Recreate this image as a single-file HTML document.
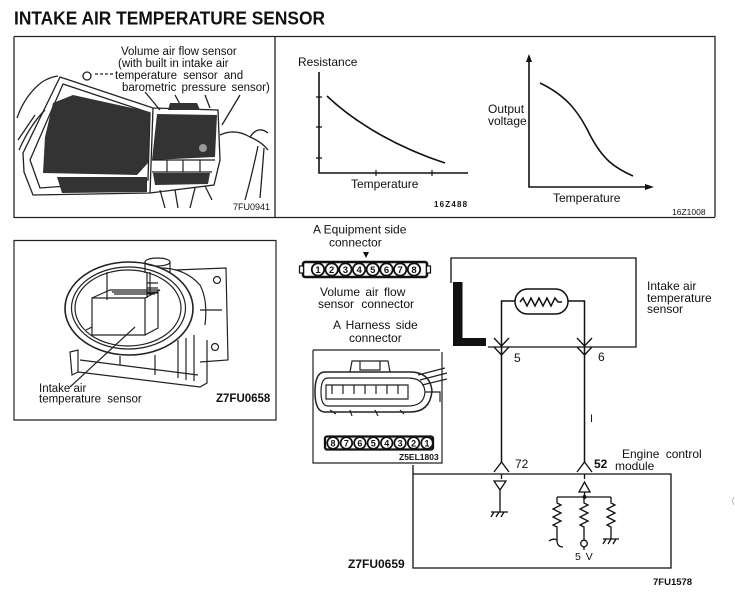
<!DOCTYPE html>
<html><head><meta charset="utf-8"><style>
html,body{margin:0;padding:0;background:#fff;}
svg{display:block;}
text{font-family:"Liberation Sans",Arial,sans-serif;fill:#111;}
</style></head><body>
<svg width="735" height="600" viewBox="0 0 735 600" xmlns="http://www.w3.org/2000/svg">
<rect width="735" height="600" fill="#fff"/>
<!-- Title -->
<text x="14" y="24.5" font-size="18" font-weight="bold" textLength="311" lengthAdjust="spacingAndGlyphs">INTAKE AIR TEMPERATURE SENSOR</text>

<!-- Top frame -->
<g stroke="#222" stroke-width="1.3" fill="none">
<path d="M14,36.5 H715 V217 M14,36.5 V218 M275,36.5 V218 M14,217.5 H715"/>
</g>

<!-- Panel 1 illustration -->
<g stroke="#222" stroke-width="1.3" fill="none">
<path d="M17,118 Q25,95 42,82 Q50,77 58,76"/>
<path d="M19,150 Q30,125 45,110"/>
<path d="M18,140 L35,115"/>
<path d="M60,77 L153,108 L218,110 L220,160 L214,185 L150,193 L33,195 L24,172 L23,153 Z"/>
<path d="M63,84 L150,113 L148,180 L40,188 L30,160 Z"/>
<circle cx="87" cy="76" r="4"/>
<path d="M95,74 H113" stroke-dasharray="3,2"/>
<path d="M153,108 L150,193"/>
<path d="M220,135 Q235,128 250,137 Q258,125 268,133"/>
<path d="M258,146 Q252,175 245,200"/>
<path d="M264,148 Q262,175 260,198"/>
<path d="M250,137 Q262,142 268,150"/>
<path d="M160,190 L165,208 M175,190 L178,208 M195,188 L190,208 M205,186 L212,200"/>
<path d="M145,92 L160,110 M175,95 L182,108 M205,95 L210,108 M240,95 L222,125"/>
</g>
<g fill="#333">
<path d="M53,103 L73,95 L150,112 L148,163 L137,175 L43,173 L45,137 Z"/>
<path d="M57,177 L147,177 L147,192 L62,193 Z"/>
<path d="M157,114 L217,115 L215,157 L152,160 Z"/>
<path d="M170,103 L197,103 L200,110 L168,110 Z"/>
<path d="M153,173 L210,173 L208,184 L155,185 Z"/>
</g>
<g stroke="#222" stroke-width="1.2" fill="none">
<path d="M152,160 H215 M152,172 H212 M167,160 V172 M183,160 V172 M200,160 V172"/>
</g>
<circle cx="203" cy="148" r="4" fill="#999"/>
<text x="121" y="55" font-size="11.5">Volume air flow sensor</text>
<text x="118" y="67" font-size="11.5">(with built in intake air</text>
<text x="115" y="79" font-size="11.5" word-spacing="3">temperature sensor and</text>
<text x="122" y="91" font-size="11.5" word-spacing="2">barometric pressure sensor)</text>
<text x="233" y="210" font-size="9">7FU0941</text>

<!-- Graph 1 -->
<g stroke="#111" stroke-width="1.6" fill="none">
<path d="M319,72 V173 H468"/>
<path d="M316,97 H322 M316,127 H322 M316,158 H322 M376,170 V176 M432,170 V176" stroke-width="1.2"/>
<path d="M327,96 C350,118 390,145 445,163"/>
</g>
<text x="298" y="66" font-size="12">Resistance</text>
<text x="351" y="188" font-size="12">Temperature</text>
<text x="434" y="207" font-size="8" font-weight="bold" letter-spacing="1.2">16Z488</text>

<!-- Graph 2 -->
<g stroke="#111" stroke-width="1.6" fill="none">
<path d="M529,60 V187 H647"/>
<path d="M540,83 C565,95 578,110 590,135 C603,160 615,168 633,176"/>
</g>
<path d="M526,62 L529,54 L532,62 Z" fill="#111"/>
<path d="M645,184 L654,187 L645,190 Z" fill="#111"/>
<text x="488" y="113" font-size="12">Output</text>
<text x="488" y="125" font-size="12">voltage</text>
<text x="553" y="202" font-size="12">Temperature</text>
<text x="672" y="215" font-size="8.5">16Z1008</text>

<!-- Panel 3 -->
<g stroke="#222" stroke-width="1.2" fill="none">
<path d="M14,240.5 H276 V420 H14 Z"/>
<path d="M175,270 L226,268 L228,360 L200,362"/>
<circle cx="217" cy="280" r="3.5"/>
<circle cx="215" cy="347" r="3.5"/>
<path d="M200,310 H222" />
<path d="M145,262 V273 M170,262 V273"/>
<ellipse cx="157.5" cy="262" rx="12.5" ry="4"/>
<path d="M160,268 Q185,268 200,285 Q208,300 205,325"/>
<ellipse cx="129" cy="308.5" rx="64" ry="46.5" stroke-width="1.6"/>
<ellipse cx="128.5" cy="308" rx="57" ry="41"/>
<ellipse cx="128" cy="308" rx="53" ry="38"/>
<path d="M107,272 V300 M147,272 V298 M150,272 V295"/>
<path d="M147,283 H158 M147,288 H158 M147,293 H158"/>
<path d="M92,298 H145 V335 H92 Z"/>
<path d="M92,298 L110,290 H160 L145,298"/>
<path d="M112,292 H158 M114,294 H155"/>
<path d="M145,335 L158,328 V292"/>
<path d="M86,330 L92,327"/>
<path d="M135,327 L70,387"/>
<path d="M70,352 L78,350 V372 L72,375 Z"/>
<path d="M78,372 L200,387 L207,383 V340"/>
<path d="M80,360 L198,375"/>
<path d="M178,340 V378 M186,338 V380 M194,335 V381"/>
<path d="M155,355 V375 M120,356 V365"/>
</g>
<text x="39" y="392" font-size="11.5">Intake air</text>
<text x="39" y="402.5" font-size="11.5" word-spacing="3">temperature sensor</text>
<text x="216" y="402" font-size="11.5" font-weight="bold">Z7FU0658</text>

<!-- Equipment side connector -->
<text x="313" y="233.5" font-size="12">A Equipment side</text>
<text x="329" y="246.5" font-size="12">connector</text>
<path d="M363,252 H369 L366,258 Z" fill="#111"/>
<rect x="303" y="262" width="124" height="15" rx="2" fill="#fff" stroke="#111" stroke-width="2.5"/>
<rect x="299.5" y="266" width="4" height="7" fill="#fff" stroke="#111" stroke-width="1.2"/>
<rect x="426.5" y="266" width="4" height="7" fill="#fff" stroke="#111" stroke-width="1.2"/>
<g fill="#fff" stroke="#111" stroke-width="1.8">
<circle cx="318" cy="269.5" r="6.2"/><circle cx="331.7" cy="269.5" r="6.2"/><circle cx="345.4" cy="269.5" r="6.2"/><circle cx="359.1" cy="269.5" r="6.2"/>
<circle cx="372.8" cy="269.5" r="6.2"/><circle cx="386.5" cy="269.5" r="6.2"/><circle cx="400.2" cy="269.5" r="6.2"/><circle cx="414" cy="269.5" r="6.2"/>
</g>
<g font-size="9.5" font-weight="bold" text-anchor="middle">
<text x="318" y="273">1</text><text x="331.7" y="273">2</text><text x="345.4" y="273">3</text><text x="359.1" y="273">4</text>
<text x="372.8" y="273">5</text><text x="386.5" y="273">6</text><text x="400.2" y="273">7</text><text x="414" y="273">8</text>
</g>
<text x="320" y="296" font-size="12" word-spacing="2">Volume air flow</text>
<text x="318" y="308" font-size="12" word-spacing="4">sensor connector</text>
<text x="333" y="329" font-size="12" word-spacing="2">A Harness side</text>
<text x="349" y="342" font-size="12">connector</text>

<!-- Harness box -->
<g stroke="#222" stroke-width="1.2" fill="none">
<path d="M313,350 H440 M313,350 V463 H442 V352"/>
<path d="M325,372 H410 Q430,372 432,391 Q430,412 410,412 H325 Q315,412 315,392 Q315,372 325,372 Z" stroke-width="1.5"/>
<path d="M328,378 H408 Q424,378 425,392 Q424,406 408,406 H328 Q321,406 321,392 Q321,378 328,378 Z"/>
<path d="M350,372 L352,361 H388 L390,372 M360,361 V370 H380 V361"/>
<path d="M326,385 H408 V399 H326 Z"/>
<path d="M332,385 V394 M343,385 V394 M354,385 V394 M365,385 V394 M376,385 V394 M387,385 V394 M398,385 V394"/>
<path d="M330,410 L336,414 M350,410 L352,416 M375,410 L378,416 M400,410 L404,414"/>
<path d="M418,375 L445,368 M420,380 L447,373 M422,385 L447,379 M425,392 L440,392 V402"/>
</g>
<rect x="325" y="436.5" width="108" height="13" rx="2" fill="#fff" stroke="#111" stroke-width="2.3"/>
<g fill="#fff" stroke="#111" stroke-width="1.7">
<circle cx="333" cy="443" r="5.8"/><circle cx="346.4" cy="443" r="5.8"/><circle cx="359.9" cy="443" r="5.8"/><circle cx="373.3" cy="443" r="5.8"/>
<circle cx="386.7" cy="443" r="5.8"/><circle cx="400.1" cy="443" r="5.8"/><circle cx="413.6" cy="443" r="5.8"/><circle cx="427" cy="443" r="5.8"/>
</g>
<g font-size="9" font-weight="bold" text-anchor="middle">
<text x="333" y="446.3">8</text><text x="346.4" y="446.3">7</text><text x="359.9" y="446.3">6</text><text x="373.3" y="446.3">5</text>
<text x="386.7" y="446.3">4</text><text x="400.1" y="446.3">3</text><text x="413.6" y="446.3">2</text><text x="427" y="446.3">1</text>
</g>
<text x="399" y="460" font-size="8.5" font-weight="bold">Z5EL1803</text>

<!-- Sensor circuit -->
<g stroke="#111" stroke-width="1.3" fill="none">
<path d="M451,283 V258 H636 V347 H488"/>
<rect x="515" y="289" width="53" height="25" rx="12.5" stroke-width="1.5"/>
<polyline points="520,302 523,298 527,306 531,298 535,306 539,298 543,306 547,298 551,306 555,298 558,302 562,302" stroke-width="1.5"/>
<path d="M501.5,462 V301 H515 M568,301 H584.5 V462" stroke-width="1.5"/>
<path d="M494,338 L501.5,346 L509,338 M494,347 L501.5,355 L509,347"/>
<path d="M577,338 L584.5,346 L592,338 M577,347 L584.5,355 L592,347"/>
</g>
<rect x="453" y="282" width="9.5" height="64" fill="#111"/>
<rect x="453" y="338" width="33" height="8" fill="#111"/>
<text x="514" y="362" font-size="12">5</text>
<text x="598" y="361" font-size="12">6</text>
<text x="647" y="290" font-size="12">Intake air</text>
<text x="647" y="302" font-size="12">temperature</text>
<text x="647" y="313" font-size="12">sensor</text>
<text x="590" y="422" font-size="11">I</text>

<!-- ECM -->
<g stroke="#111" stroke-width="1.3" fill="none">
<path d="M413,465 V568 H671 V474 H413"/>
<path d="M494,472 L501.5,462 L509,472 M577,472 L584.5,462 L592,472"/>
<path d="M501.5,474 V479 M584.5,474 V479"/>
<path d="M494,481 H506 L500,490 Z"/>
<path d="M500,490 V512 M491,512 H508 M494,512 L491,517 M499,512 L496,517 M504,512 L501,517"/>
<path d="M579,492 H590 L584.5,482 Z"/>
<path d="M584.5,492 V497 M557,497 H611"/>
<path d="M557,497 V503 L561,505 L553,509 L561,513 L553,517 L561,521 L553,525 L557,527 V540 Q557,547 563,547 M557,540 Q553,538 549,541"/>
<path d="M584,497 V503 L588,505 L580,509 L588,513 L580,517 L588,521 L580,525 L584,527 V540"/>
<circle cx="584" cy="543.5" r="3.3"/>
<path d="M584,547 V550"/>
<path d="M611,497 V503 L615,505 L607,509 L615,513 L607,517 L615,521 L607,525 L611,527 V539 M603,539 H619 M606,539 L603,544 M611,539 L608,544 M616,539 L613,544"/>
</g>
<circle cx="584.5" cy="497" r="2" fill="#111"/>
<text x="515" y="468" font-size="12">72</text>
<text x="594" y="468" font-size="12" font-weight="bold">52</text>
<text x="622" y="458" font-size="12" word-spacing="3">Engine control</text>
<text x="615" y="470" font-size="12">module</text>
<text x="575" y="560" font-size="10.5" word-spacing="2">5 V</text>
<text x="348" y="568" font-size="12" font-weight="bold">Z7FU0659</text>
<text x="653" y="585" font-size="9.5" font-weight="bold">7FU1578</text>
<path d="M734,497 Q731,501 734,505" stroke="#bbb" fill="none"/>
</svg>
</body></html>
